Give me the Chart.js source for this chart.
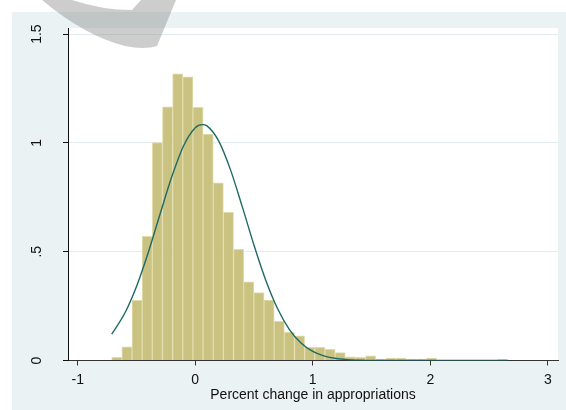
<!DOCTYPE html>
<html>
<head>
<meta charset="utf-8">
<script src="https://cdn.jsdelivr.net/npm/chart.js@4.4.1/dist/chart.umd.min.js"></script>
<style>
  html, body { margin: 0; padding: 0; background: #ffffff; }
  #wrap { width: 566px; height: 410px; }
</style>
</head>
<body>
<div id="wrap"><canvas id="c" width="566" height="410"></canvas></div>
<script>
// Histogram bins (centre of each bin) and their densities
const binCenters = [
  -0.6678, -0.5814, -0.4950, -0.4086, -0.3222, -0.2358, -0.1494, -0.0630,
   0.0234,  0.1098,  0.1962,  0.2826,  0.3690,  0.4554,  0.5418,  0.6282,
   0.7146,  0.8010,  0.8874,  0.9738,  1.0602,  1.1466,  1.2330,  1.3194,
   1.4058,  1.4922,  1.5786,  1.6650,  1.7514,  1.8378,  1.9242,  2.0106,
   2.0970,  2.1834,  2.2698,  2.3562,  2.4426,  2.5290,  2.6154
];
const density = [
  0.015, 0.063, 0.277, 0.571, 1.001, 1.166, 1.317, 1.304,
  1.164, 1.041, 0.817, 0.681, 0.511, 0.361, 0.312, 0.278,
  0.180, 0.131, 0.113, 0.061, 0.061, 0.051, 0.036, 0.017,
  0.015, 0.021, 0.007, 0.011, 0.011, 0.006, 0.007, 0.011,
  0.000, 0.000, 0.000, 0.000, 0.000, 0.000, 0.004
];

// Normal density overlay
const curveX = [
  -0.711, -0.6, -0.5, -0.4, -0.3, -0.2, -0.1, 0.0, 0.06, 0.1, 0.2, 0.3,
   0.4, 0.5, 0.6, 0.7, 0.8, 0.9, 1.0, 1.1, 1.2, 1.3, 1.4, 1.5,
   1.7, 2.0, 2.3, 2.659
];
const curveY = [
  0.121, 0.217, 0.340, 0.496, 0.672, 0.844, 0.986, 1.070, 1.084, 1.078, 1.008, 0.876,
  0.707, 0.530, 0.369, 0.239, 0.1435, 0.080, 0.0415, 0.020, 0.0089, 0.0037, 0.0014, 0.0005,
  0.0001, 0.0, 0.0, 0.0
];

const xTicks = [-1, 0, 1, 2, 3];
const yTicks = [0, 0.5, 1, 1.5];
const yTickLabels = { 0: '0', 0.5: '.5', 1: '1', 1.5: '1.5' };
const xTitle = 'Percent change in appropriations';

const FONT = "Arial, 'Liberation Sans', Helvetica, sans-serif";
const BG = '#EAF2F3';

// Graph region, plot region and the grey stamp in the upper left
const backdrop = {
  id: 'backdrop',
  beforeDraw(chart) {
    const ctx = chart.ctx;
    const a = chart.chartArea;
    ctx.save();
    ctx.fillStyle = '#ffffff';
    ctx.fillRect(0, 0, chart.width, chart.height);
    ctx.fillStyle = BG;
    ctx.fillRect(12, 12, chart.width - 12, chart.height - 12);
    ctx.fillStyle = '#ffffff';
    ctx.fillRect(a.left, a.top, a.right - a.left, a.bottom - a.top);
    ctx.restore();
  },
  afterDraw(chart) {
    const ctx = chart.ctx;
    ctx.save();
    ctx.fillStyle = 'rgba(130,130,130,0.4)';
    ctx.beginPath();
    ctx.moveTo(42, 0);
    ctx.quadraticCurveTo(85, 36, 125, 46);
    ctx.quadraticCurveTo(145, 50, 157, 46);
    ctx.lineTo(176, 0);
    ctx.lineTo(141, 0);
    ctx.lineTo(132, 10);
    ctx.quadraticCurveTo(102, 10, 72, 0);
    ctx.closePath();
    ctx.fill();
    ctx.restore();
  }
};

const bars = binCenters.map((x, i) => ({ x: x, y: density[i] }));
const curve = curveX.map((x, i) => ({ x: x, y: curveY[i] }));

new Chart(document.getElementById('c'), {
  type: 'bar',
  data: {
    datasets: [
      {
        type: 'line',
        data: curve,
        borderColor: '#1E6A64',
        borderWidth: 1.4,
        pointRadius: 0,
        fill: false,
        cubicInterpolationMode: 'monotone',
        order: 0
      },
      {
        type: 'bar',
        data: bars,
        backgroundColor: '#C9C280',
        borderColor: '#E2DCAC',
        borderWidth: 1,
        barPercentage: 1.0,
        categoryPercentage: 1.0,
        order: 1
      }
    ]
  },
  options: {
    responsive: false,
    animation: false,
    devicePixelRatio: 1,
    layout: { padding: { left: 12, top: 28, right: 8, bottom: 0 } },
    plugins: {
      legend: { display: false },
      tooltip: { enabled: false }
    },
    scales: {
      x: {
        type: 'linear',
        min: -1.083,
        max: 3.087,
        offset: false,
        afterBuildTicks(scale) { scale.ticks = xTicks.map(v => ({ value: v })); },
        afterFit(scale) { scale.height = 49.5; },
        ticks: {
          autoSkip: false,
          maxRotation: 0,
          padding: 6,
          color: '#111111',
          font: { family: FONT, size: 14 },
          callback: v => String(v)
        },
        grid: {
          offset: false,
          drawOnChartArea: false,
          drawTicks: true,
          tickLength: 5,
          tickColor: '#333333'
        },
        border: { display: true, color: '#333333', width: 1 },
        title: {
          display: true,
          text: xTitle,
          color: '#111111',
          font: { family: FONT, size: 14 },
          padding: { top: 0, bottom: 6 }
        }
      },
      y: {
        min: 0,
        max: 1.528,
        afterBuildTicks(scale) { scale.ticks = yTicks.map(v => ({ value: v })); },
        afterFit(scale) { scale.width = 56; },
        ticks: {
          autoSkip: false,
          minRotation: 90,
          maxRotation: 90,
          crossAlign: 'center',
          padding: 16,
          color: '#111111',
          font: { family: FONT, size: 14 },
          callback: v => yTickLabels[v]
        },
        grid: {
          offset: false,
          color: ctx => (ctx.tick && ctx.tick.value === 0) ? 'rgba(0,0,0,0)' : '#E3ECEE',
          lineWidth: 1,
          drawTicks: true,
          tickLength: 5,
          tickColor: '#111111'
        },
        border: { display: true, color: '#111111', width: 1 }
      }
    }
  },
  plugins: [backdrop]
});
</script>
</body>
</html>
